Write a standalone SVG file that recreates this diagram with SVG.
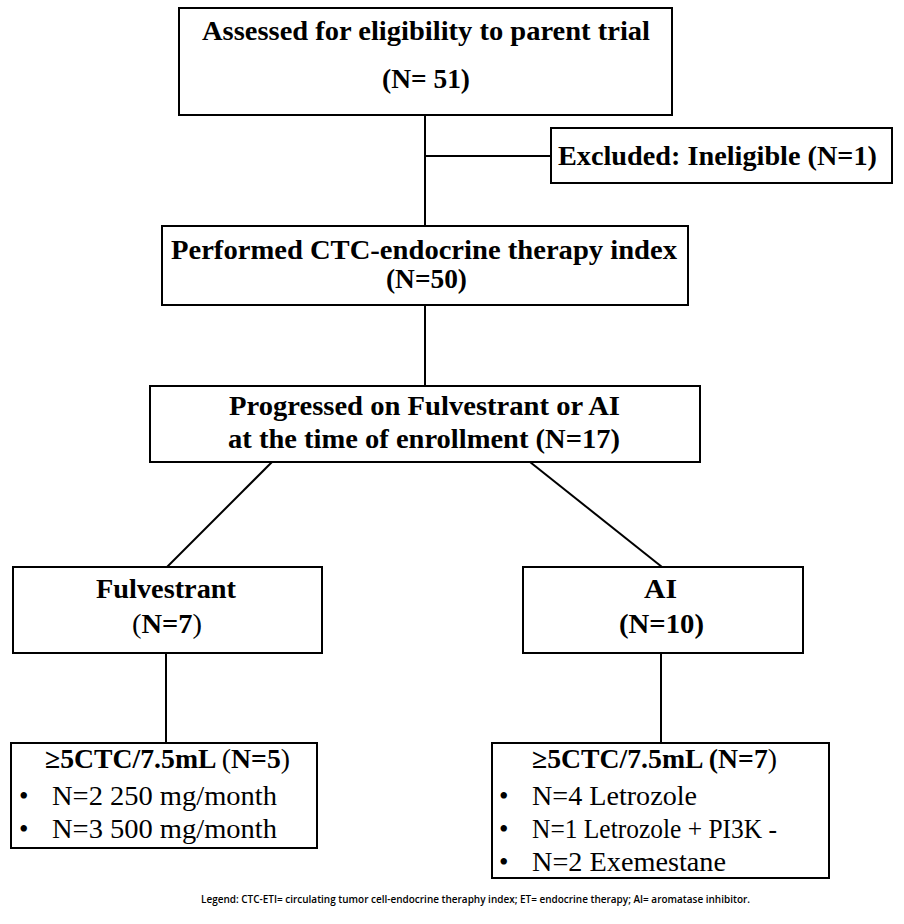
<svg xmlns="http://www.w3.org/2000/svg" width="904" height="924" viewBox="0 0 904 924">
<style>
.box{fill:#fff;stroke:#000;stroke-width:2}
.ln{stroke:#000;stroke-width:2;fill:none}
.b{font-family:"Liberation Serif","Times New Roman",serif;font-weight:bold;font-size:27px;fill:#000}
.r{font-family:"Liberation Serif","Times New Roman",serif;font-weight:normal;font-size:27px;fill:#000}
.n{font-weight:normal}
.lg{font-family:"Open Sans","Liberation Sans",sans-serif;font-weight:600;font-size:11.5px;fill:#000}
</style>
<rect width="904" height="924" fill="#fff"/>
<g id="connectors">
<line class="ln" x1="425" y1="115" x2="425" y2="226"/>
<line class="ln" x1="425" y1="156" x2="551" y2="156"/>
<line class="ln" x1="425" y1="305" x2="425" y2="386"/>
<line class="ln" x1="272" y1="462" x2="167" y2="567"/>
<line class="ln" x1="530" y1="462" x2="662" y2="567"/>
<line class="ln" x1="166" y1="653" x2="166" y2="743"/>
<line class="ln" x1="661" y1="653" x2="661" y2="743"/>
</g>
<g id="n1">
<rect class="box" x="179" y="8" width="493" height="107"/>
<text class="b" x="202" y="40" textLength="448" lengthAdjust="spacingAndGlyphs">Assessed for eligibility to parent trial</text>
<text class="b" x="382" y="88" textLength="88" lengthAdjust="spacingAndGlyphs">(N= 51)</text>
</g>
<g id="n2">
<rect class="box" x="551" y="128" width="341" height="55"/>
<text class="b" x="558" y="165" textLength="319" lengthAdjust="spacingAndGlyphs">Excluded: Ineligible (N=1)</text>
</g>
<g id="n3">
<rect class="box" x="162" y="226" width="526" height="79"/>
<text class="b" x="171" y="259" textLength="506" lengthAdjust="spacingAndGlyphs">Performed CTC-endocrine therapy index</text>
<text class="b" x="386" y="288" textLength="81" lengthAdjust="spacingAndGlyphs">(N=50)</text>
</g>
<g id="n4">
<rect class="box" x="150" y="386" width="550" height="76"/>
<text class="b" x="229" y="415" textLength="391" lengthAdjust="spacingAndGlyphs">Progressed on Fulvestrant or AI</text>
<text class="b" x="228" y="448" textLength="392" lengthAdjust="spacingAndGlyphs">at the time of enrollment (N=17)</text>
</g>
<g id="n5">
<rect class="box" x="13" y="567" width="309" height="86"/>
<text class="b" x="96" y="598" textLength="140" lengthAdjust="spacingAndGlyphs">Fulvestrant</text>
<text class="b" x="132" y="633" textLength="70" lengthAdjust="spacingAndGlyphs"><tspan class="n">(</tspan>N=7<tspan class="n">)</tspan></text>
</g>
<g id="n6">
<rect class="box" x="523" y="567" width="280" height="86"/>
<text class="b" x="644" y="598" textLength="33" lengthAdjust="spacingAndGlyphs">AI</text>
<text class="b" x="619" y="633" textLength="85" lengthAdjust="spacingAndGlyphs">(N=10)</text>
</g>
<g id="n7">
<rect class="box" x="11" y="743" width="306" height="105"/>
<text class="b" x="45" y="768" textLength="245" lengthAdjust="spacingAndGlyphs">≥5CTC/7.5mL <tspan class="n">(</tspan>N=5<tspan class="n">)</tspan></text>
<text class="r" x="19" y="805">•</text>
<text class="r" x="52" y="805" textLength="225" lengthAdjust="spacingAndGlyphs">N=2 250 mg/month</text>
<text class="r" x="19" y="838">•</text>
<text class="r" x="52" y="838" textLength="225" lengthAdjust="spacingAndGlyphs">N=3 500 mg/month</text>
</g>
<g id="n8">
<rect class="box" x="492" y="743" width="337" height="135"/>
<text class="b" x="532" y="768" textLength="245" lengthAdjust="spacingAndGlyphs">≥5CTC/7.5mL (N=7<tspan class="n">)</tspan></text>
<text class="r" x="499" y="805">•</text>
<text class="r" x="532" y="805" textLength="165" lengthAdjust="spacingAndGlyphs">N=4 Letrozole</text>
<text class="r" x="499" y="838">•</text>
<text class="r" x="532" y="838" textLength="245" lengthAdjust="spacingAndGlyphs">N=1 Letrozole + PI3K -</text>
<text class="r" x="499" y="871">•</text>
<text class="r" x="532" y="871" textLength="194" lengthAdjust="spacingAndGlyphs">N=2 Exemestane</text>
</g>
<text class="lg" x="201" y="903" textLength="549" lengthAdjust="spacingAndGlyphs">Legend: CTC-ETI= circulating tumor cell-endocrine theraphy index; ET= endocrine therapy; AI= aromatase inhibitor.</text>
</svg>
